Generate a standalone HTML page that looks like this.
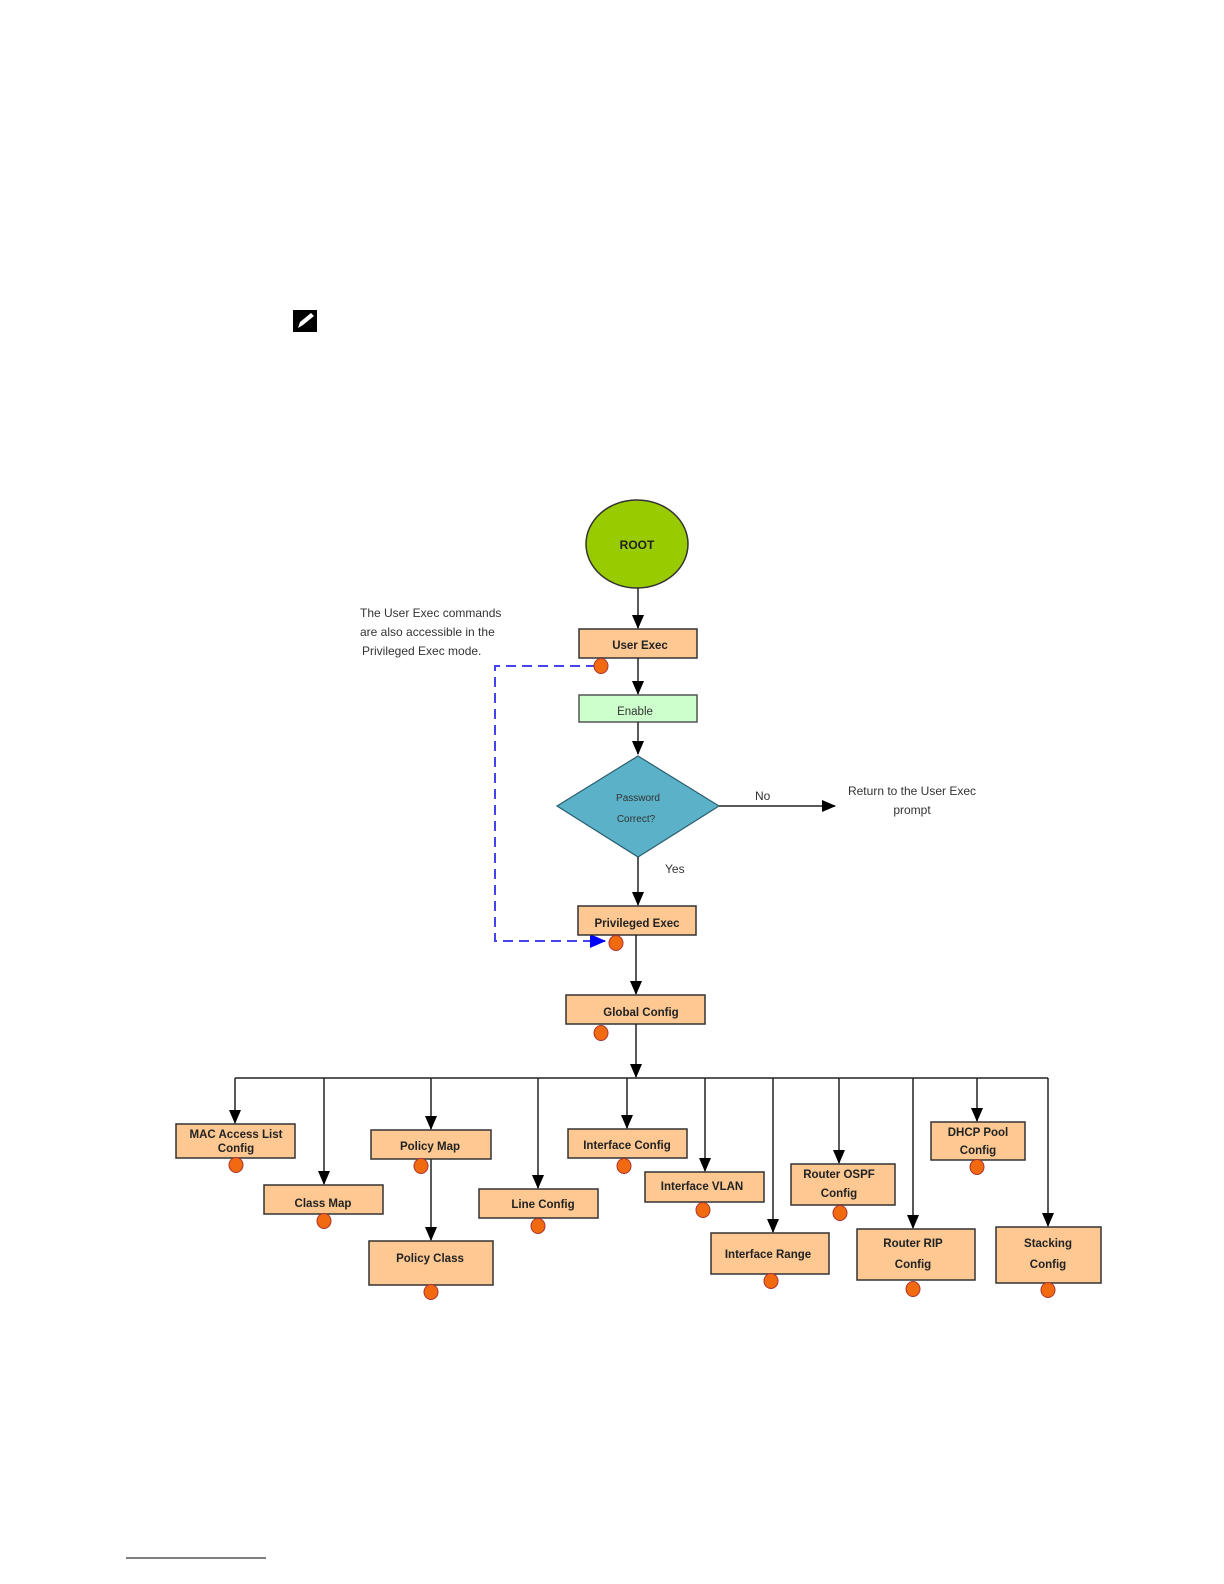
<!DOCTYPE html>
<html><head><meta charset="utf-8"><style>
html,body{margin:0;padding:0;background:#fff;overflow:hidden;width:1224px;height:1584px;}
svg{display:block;}
text{font-family:"Liberation Sans",Arial,sans-serif;}
.b{fill:#fdc892;stroke:#333;stroke-width:1.5;}
.t{font-size:11.5px;font-weight:bold;fill:#222;text-anchor:middle;}
.d{fill:#f26a10;stroke:#a33;stroke-width:1;}
.l{stroke:#222;stroke-width:1.5;fill:none;}
</style></head><body>
<svg width="1224" height="1584" viewBox="0 0 1224 1584" xmlns="http://www.w3.org/2000/svg">
<defs>
<marker id="a" markerWidth="14" markerHeight="12" refX="13" refY="6" orient="auto" markerUnits="userSpaceOnUse"><path d="M0,0 L14,6 L0,12 z" fill="#000"/></marker>
<marker id="ab" markerWidth="16" markerHeight="14" refX="15" refY="7" orient="auto" markerUnits="userSpaceOnUse"><path d="M0,0 L16,7 L0,14 z" fill="#00f"/></marker>
</defs>
<rect x="293" y="310" width="24" height="22" fill="#000"/>
<path d="M298,328 L300,322 L311,313 L314,316 L303,325 Z" fill="#fff"/>
<ellipse cx="637" cy="544" rx="51" ry="44" fill="#99cc00" stroke="#333" stroke-width="1.5"/>
<text x="637" y="549" class="t" style="font-size:12px">ROOT</text>
<line x1="638" y1="588" x2="638" y2="628" class="l" marker-end="url(#a)"/>
<text x="360" y="617" font-size="12" fill="#333">The User Exec commands</text>
<text x="360" y="636" font-size="12" fill="#333">are also accessible in the</text>
<text x="362" y="655" font-size="12" fill="#333">Privileged Exec mode.</text>
<rect x="579" y="629" width="118" height="29" class="b"/>
<text x="640" y="649" class="t">User Exec</text>
<line x1="638" y1="658" x2="638" y2="694" class="l" marker-end="url(#a)"/>
<rect x="579" y="695" width="118" height="27" fill="#ccffcc" stroke="#555" stroke-width="1.5"/>
<text x="635" y="715" font-size="11.5" fill="#333" text-anchor="middle">Enable</text>
<line x1="638" y1="722" x2="638" y2="754" class="l" marker-end="url(#a)"/>
<polygon points="638,756 719,806 638,857 557,806" fill="#5ab1c8" stroke="#2a5f70" stroke-width="1.2"/>
<text x="638" y="801" font-size="10" fill="#333" text-anchor="middle" font-family="Liberation Serif">Password</text>
<text x="636" y="822" font-size="10" fill="#333" text-anchor="middle" font-family="Liberation Serif">Correct?</text>
<line x1="719" y1="806" x2="835" y2="806" class="l" marker-end="url(#a)"/>
<text x="755" y="800" font-size="12" fill="#333">No</text>
<text x="912" y="795" font-size="12" fill="#333" text-anchor="middle">Return to the User Exec</text>
<text x="912" y="814" font-size="12" fill="#333" text-anchor="middle">prompt</text>
<line x1="638" y1="857" x2="638" y2="905" class="l" marker-end="url(#a)"/>
<text x="665" y="873" font-size="12" fill="#333">Yes</text>
<path d="M596,666 L495,666 L495,941 L605,941" fill="none" stroke="#4444ee" stroke-width="2" stroke-dasharray="10,6" marker-end="url(#ab)"/>
<rect x="578" y="906" width="118" height="29" class="b"/>
<text x="637" y="927" class="t">Privileged Exec</text>
<line x1="636" y1="935" x2="636" y2="994" class="l" marker-end="url(#a)"/>
<rect x="566" y="995" width="139" height="29" class="b"/>
<text x="641" y="1016" class="t">Global Config</text>
<line x1="636" y1="1024" x2="636" y2="1077" class="l" marker-end="url(#a)"/>
<line x1="235" y1="1078" x2="1048" y2="1078" class="l"/>
<g class="l">
<line x1="235" y1="1078" x2="235" y2="1123" marker-end="url(#a)"/>
<line x1="324" y1="1078" x2="324" y2="1184" marker-end="url(#a)"/>
<line x1="431" y1="1078" x2="431" y2="1129" marker-end="url(#a)"/>
<line x1="431" y1="1159" x2="431" y2="1240" marker-end="url(#a)"/>
<line x1="538" y1="1078" x2="538" y2="1188" marker-end="url(#a)"/>
<line x1="627" y1="1078" x2="627" y2="1128" marker-end="url(#a)"/>
<line x1="705" y1="1078" x2="705" y2="1171" marker-end="url(#a)"/>
<line x1="773" y1="1078" x2="773" y2="1232" marker-end="url(#a)"/>
<line x1="839" y1="1078" x2="839" y2="1163" marker-end="url(#a)"/>
<line x1="913" y1="1078" x2="913" y2="1228" marker-end="url(#a)"/>
<line x1="977" y1="1078" x2="977" y2="1121" marker-end="url(#a)"/>
<line x1="1048" y1="1078" x2="1048" y2="1226" marker-end="url(#a)"/>
</g>
<rect x="176" y="1124" width="119" height="34" class="b"/>
<text x="236" y="1138" class="t">MAC Access List</text><text x="236" y="1152" class="t">Config</text>
<rect x="264" y="1185" width="119" height="29" class="b"/>
<text x="323" y="1207" class="t">Class Map</text>
<rect x="371" y="1130" width="120" height="29" class="b"/>
<text x="430" y="1150" class="t">Policy Map</text>
<rect x="369" y="1241" width="124" height="44" class="b"/>
<text x="430" y="1262" class="t">Policy Class</text>
<rect x="479" y="1189" width="119" height="29" class="b"/>
<text x="543" y="1208" class="t">Line Config</text>
<rect x="568" y="1129" width="119" height="29" class="b"/>
<text x="627" y="1149" class="t">Interface Config</text>
<rect x="645" y="1172" width="119" height="30" class="b"/>
<text x="702" y="1190" class="t">Interface VLAN</text>
<rect x="711" y="1233" width="118" height="41" class="b"/>
<text x="768" y="1258" class="t">Interface Range</text>
<rect x="791" y="1164" width="104" height="41" class="b"/>
<text x="839" y="1178" class="t">Router  OSPF</text><text x="839" y="1197" class="t">Config</text>
<rect x="857" y="1229" width="118" height="51" class="b"/>
<text x="913" y="1247" class="t">Router RIP</text><text x="913" y="1268" class="t">Config</text>
<rect x="931" y="1122" width="94" height="38" class="b"/>
<text x="978" y="1136" class="t">DHCP Pool</text><text x="978" y="1154" class="t">Config</text>
<rect x="996" y="1227" width="105" height="56" class="b"/>
<text x="1048" y="1247" class="t">Stacking</text><text x="1048" y="1268" class="t">Config</text>
<g class="d">
<ellipse cx="601" cy="666" rx="7" ry="7.5"/>
<ellipse cx="616" cy="943" rx="7" ry="7.5"/>
<ellipse cx="601" cy="1033" rx="7" ry="7.5"/>
<ellipse cx="236" cy="1165" rx="7" ry="7.5"/>
<ellipse cx="324" cy="1221" rx="7" ry="7.5"/>
<ellipse cx="421" cy="1166" rx="7" ry="7.5"/>
<ellipse cx="431" cy="1292" rx="7" ry="7.5"/>
<ellipse cx="538" cy="1226" rx="7" ry="7.5"/>
<ellipse cx="624" cy="1166" rx="7" ry="7.5"/>
<ellipse cx="703" cy="1210" rx="7" ry="7.5"/>
<ellipse cx="771" cy="1281" rx="7" ry="7.5"/>
<ellipse cx="840" cy="1213" rx="7" ry="7.5"/>
<ellipse cx="913" cy="1289" rx="7" ry="7.5"/>
<ellipse cx="977" cy="1167" rx="7" ry="7.5"/>
<ellipse cx="1048" cy="1290" rx="7" ry="7.5"/>
</g>
<line x1="126" y1="1558" x2="266" y2="1558" stroke="#000" stroke-width="1"/>
</svg>
</body></html>
